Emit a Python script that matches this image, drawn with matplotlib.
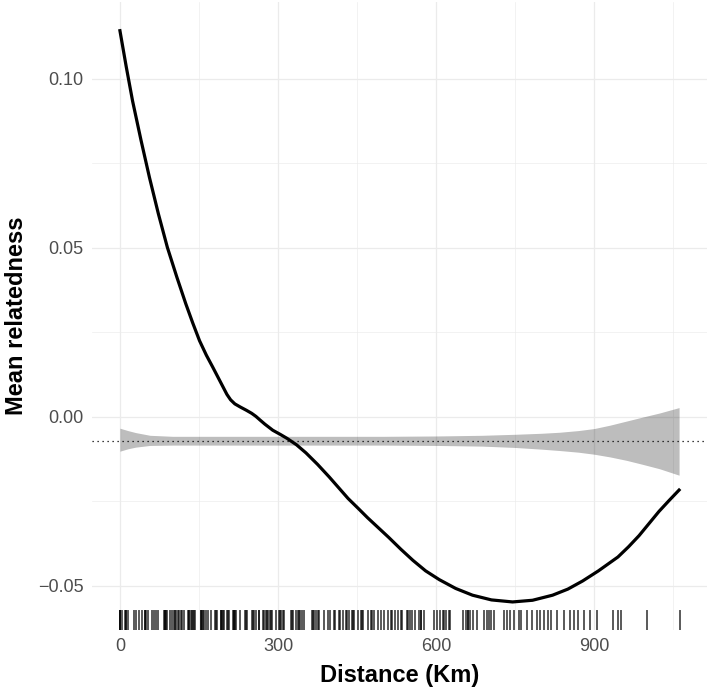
import matplotlib
matplotlib.use("Agg")
import matplotlib.pyplot as plt
import numpy as np

# smoothed mean relatedness curve (km, value)
curve_km = [0, 12, 24, 40, 56, 73, 90, 108, 125, 138, 151, 164, 176, 186, 195, 203,
            210, 218, 228, 240, 250, 258, 266, 275, 290, 305, 317, 335, 353, 375, 397,
            415, 433, 452, 470, 490, 510, 533, 556, 580, 606, 637, 669, 705, 745, 783,
            821, 850, 878, 908, 945, 965, 985, 1004, 1023, 1042, 1061]
curve_val = [0.1142, 0.1035, 0.0934, 0.0818, 0.0708, 0.0600, 0.0501, 0.0413, 0.0334,
             0.0278, 0.0225, 0.0182, 0.0147, 0.0117, 0.0090, 0.0066, 0.0050, 0.0038,
             0.0029, 0.0019, 0.0010, 0.0001, -0.0010, -0.0022, -0.0040, -0.0053,
             -0.0064, -0.0083, -0.0107, -0.0141, -0.0178, -0.0210, -0.0242, -0.0271,
             -0.0299, -0.0328, -0.0357, -0.0392, -0.0425, -0.0456, -0.0482, -0.0508,
             -0.0528, -0.0542, -0.0548, -0.0543, -0.0528, -0.0510, -0.0486, -0.0456,
             -0.0415, -0.0385, -0.0352, -0.0316, -0.0280, -0.0248, -0.0217]

# null envelope
band_km = [0, 15, 30, 57, 100, 200, 300, 400, 500, 600, 687, 750, 800, 834, 870, 900,
           930, 961, 992, 1024, 1061]
band_lo = [-0.0102, -0.0095, -0.0090, -0.0085, -0.0084, -0.0084, -0.0084, -0.0084,
           -0.0084, -0.0085, -0.0087, -0.0091, -0.0096, -0.0100, -0.0105, -0.0111,
           -0.0119, -0.0129, -0.0141, -0.0154, -0.0173]
band_hi = [-0.0034, -0.0041, -0.0047, -0.0055, -0.0058, -0.0058, -0.0058, -0.0058,
           -0.0058, -0.0057, -0.0055, -0.0052, -0.0049, -0.0046, -0.0041, -0.0035,
           -0.0025, -0.0013, -0.0001, 0.0011, 0.0027]
null_mean = -0.0071

# pairwise distances (rug)
rug_km = [0, 0, 1, 4, 10, 11, 12, 16, 26, 30, 37, 41, 47, 48, 49, 53, 61, 64, 68, 72,
          84, 85, 86, 88, 89, 95, 98, 102, 104, 106, 110, 113, 116, 118, 122, 130, 131,
          132, 134, 136, 138, 140, 143, 153, 154, 156, 158, 159, 163, 168, 172, 180,
          182, 184, 191, 192, 193, 196, 198, 203, 205, 207, 215, 216, 217, 219, 220,
          228, 237, 239, 241, 250, 252, 254, 258, 263, 264, 272, 273, 277, 279, 281,
          285, 287, 289, 296, 302, 304, 306, 310, 312, 324, 327, 329, 334, 337, 339,
          342, 346, 349, 365, 366, 368, 373, 375, 378, 387, 394, 399, 406, 408, 416,
          418, 424, 429, 431, 435, 440, 442, 444, 451, 457, 459, 462, 470, 476, 478,
          482, 489, 496, 501, 509, 514, 516, 522, 527, 533, 535, 545, 546, 550, 554,
          559, 567, 571, 572, 577, 596, 601, 607, 613, 614, 618, 624, 627, 651, 656,
          660, 661, 665, 670, 677, 691, 696, 700, 704, 709, 728, 734, 740, 747, 757,
          761, 773, 782, 792, 798, 805, 813, 818, 829, 843, 854, 862, 870, 880, 892,
          905, 935, 946, 951, 1000, 1062]

x_major = [0, 300, 600, 900]
y_major = [-0.05, 0.00, 0.05, 0.10]

plt.rcParams['font.family'] = ['Liberation Sans', 'DejaVu Sans']

fig = plt.figure(figsize=(7.09, 6.90), dpi=100)
ax = fig.add_axes([92/709, 60/690, 615/709, 627.7/690])

ax.set_xlim(-53, 1114)
ax.set_ylim(-0.0631, 0.1226)

ax.set_xticks(x_major)
ax.set_xticks([150, 450, 750, 1050], minor=True)
ax.set_yticks(y_major)
ax.set_yticks([-0.025, 0.025, 0.075], minor=True)
ax.set_yticklabels(['\u22120.05', '0.00', '0.05', '0.10'])
ax.grid(True, which='major', color='#ebebeb', lw=0.9)
ax.grid(True, which='minor', color='#ebebeb', lw=0.45)
ax.set_axisbelow(True)
for s in ax.spines.values():
    s.set_visible(False)
ax.tick_params(which='both', length=0)
ax.tick_params(axis='x', pad=6, labelsize=13, labelcolor='#4d4d4d')
ax.tick_params(axis='y', pad=6, labelsize=13, labelcolor='#4d4d4d')

ax.fill_between(band_km, band_lo, band_hi, color='black', alpha=0.26, lw=0)
ax.axhline(null_mean, color='black', lw=0.9, ls=(0, (1, 3)))
ax.plot(curve_km, curve_val, color='black', lw=2.3, solid_joinstyle='round')

for k in rug_km:
    ax.axvline(k, ymin=0, ymax=0.03, color='black', alpha=0.65, lw=1.4)

ax.set_xlabel('Distance (Km)', fontsize=17, fontweight='bold', labelpad=6)
ax.set_ylabel('Mean relatedness', fontsize=17, fontweight='bold', labelpad=7)

fig.savefig('out.png', dpi=100)
